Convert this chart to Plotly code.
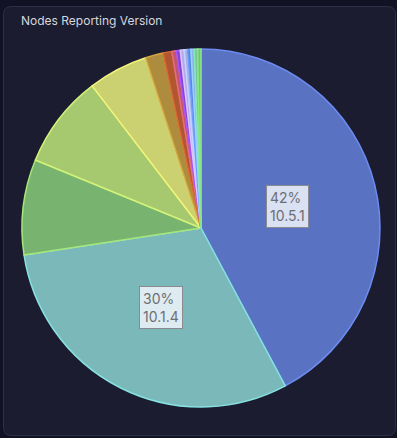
import math
import plotly.graph_objects as go

versions = ["10.5.1", "10.1.4", "10.1.3", "10.5.0", "10.4.0", "10.3.0", "10.2.0",
            "10.1.2", "10.1.1", "10.0.3", "10.0.2", "10.0.1", "9.5.2", "9.5.1", "9.4.0"]
shares = [42.2, 30.4, 8.6, 8.4, 5.4, 1.6, 0.8, 0.4, 0.35, 0.35, 0.3, 0.3, 0.3, 0.3, 0.3]
fill_colors = ["#5a72c2", "#7bb8b9", "#78b46f", "#a6c96f", "#cbd171", "#ad8c3e", "#b0572f",
               "#c0566a", "#8845cf", "#b9a7e9", "#a2b3e2", "#5a86e0", "#84b6e8", "#7cc49a", "#76c274"]
line_colors = ["#6d8cf2", "#86e2e2", "#a6e67a", "#d4f27a", "#f2f47a", "#d6a640", "#d86a36",
               "#e86a84", "#a455ff", "#d8c8ff", "#c0d2ff", "#6a9cff", "#9ad2ff", "#8ae6b0", "#88e686"]
title = "Nodes Reporting Version"

W, H = 397, 438
cx, cy, R = 201, 228, 179

fig = go.Figure(go.Pie(
    labels=versions, values=shares, sort=False, direction="clockwise", rotation=0,
    textinfo="none", hoverinfo="label+percent",
    marker=dict(colors=fill_colors, line=dict(color=line_colors, width=1.5)),
    domain=dict(x=[(cx - R) / W, (cx + R) / W], y=[1 - (cy + R) / H, 1 - (cy - R) / H]),
    showlegend=False,
))

# rounded panel
x0, y0, x1, y1, r = 3.5, 6.5, 395.5, 435.5, 8
def px(x): return x / W
def py(y): return 1 - y / H
path = (f"M {px(x0 + r)},{py(y0)} L {px(x1 - r)},{py(y0)} "
        f"Q {px(x1)},{py(y0)} {px(x1)},{py(y0 + r)} L {px(x1)},{py(y1 - r)} "
        f"Q {px(x1)},{py(y1)} {px(x1 - r)},{py(y1)} L {px(x0 + r)},{py(y1)} "
        f"Q {px(x0)},{py(y1)} {px(x0)},{py(y1 - r)} L {px(x0)},{py(y0 + r)} "
        f"Q {px(x0)},{py(y0)} {px(x0 + r)},{py(y0)} Z")
shapes = [dict(type="path", xref="paper", yref="paper", path=path,
               fillcolor="#1b1c30", line=dict(color="#2d2f45", width=1), layer="below")]

annotations = [dict(text=title, x=19 / W, y=py(20), xref="paper", yref="paper",
                    xanchor="left", yanchor="middle", showarrow=False,
                    font=dict(family="Inter", size=12, color="#d6d7de"))]

total = sum(shares)
cum = 0.0
for lab, v in zip(versions, shares):
    mid = (cum + v / 2) / total
    cum += v
    if v / total < 0.1:
        continue
    th = 2 * math.pi * mid
    xp = cx + 0.5 * R * math.sin(th)
    yp = cy - 0.5 * R * math.cos(th)
    annotations.append(dict(
        text=f"{round(100 * v / total)}%<br>{lab}", x=xp / W, y=py(yp),
        xref="paper", yref="paper", xanchor="center", yanchor="middle",
        showarrow=False, align="left",
        font=dict(family="Inter", size=14, color="#6e6e74"),
        bgcolor="rgba(240,245,250,0.85)", bordercolor="#8a8a90", borderwidth=1, borderpad=3))

fig.update_layout(width=W, height=H, margin=dict(l=0, r=0, t=0, b=0),
                  paper_bgcolor="#111224", plot_bgcolor="#111224",
                  shapes=shapes, annotations=annotations)
fig.write_html("out.html", config={"displayModeBar": False},
               post_script="document.body.style.margin='0';document.body.style.background='#111224';")
